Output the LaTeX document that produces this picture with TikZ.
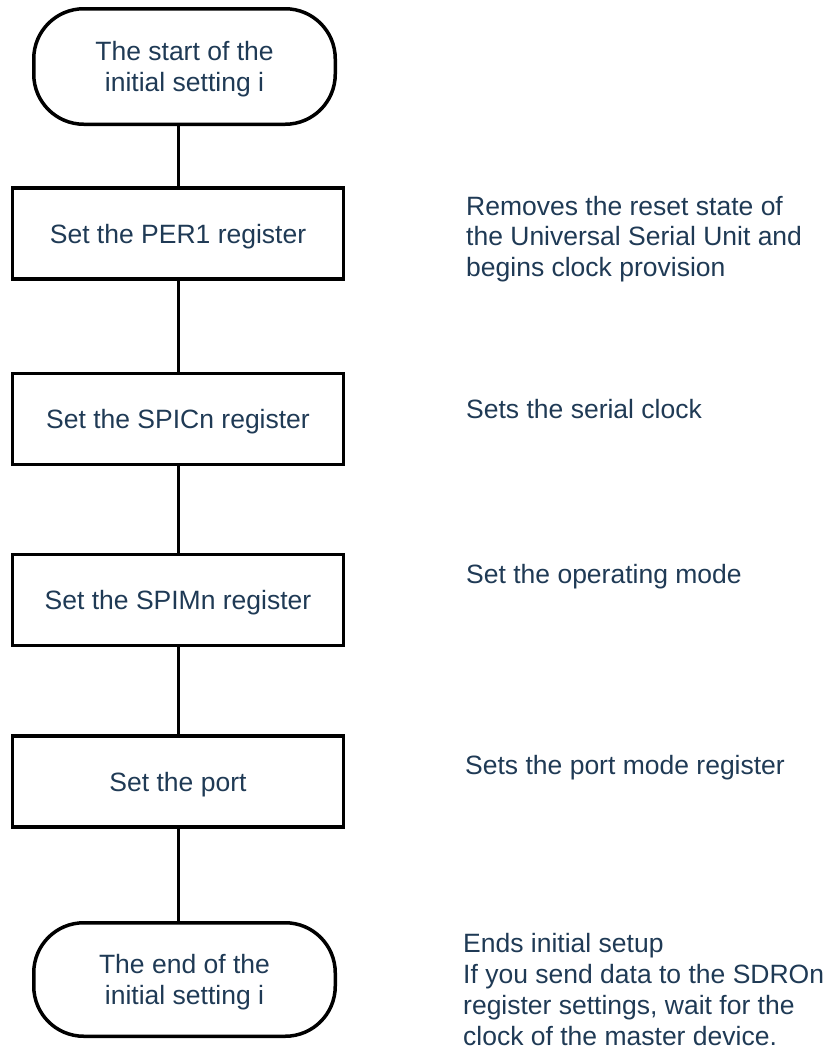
\documentclass[tikz,border=0pt]{standalone}
\usepackage{fontspec}
\setmainfont{Liberation Sans}
\usetikzlibrary{positioning}
\definecolor{notecolor}{HTML}{1F3A55}

\begin{document}
\begin{tikzpicture}[x=1pt, y=-1pt,
    every node/.style={font=\fontsize{26.5}{30.8}\selectfont, text=notecolor, inner sep=0pt},
    terminal/.style={draw=black, line width=3.5pt, rounded corners=50pt, minimum width=301.5pt, align=center},
    stepbox/.style={draw=black, line width=3.5pt, minimum width=331pt, minimum height=91pt, text height=19pt, text depth=0pt},
    note/.style={anchor=west, align=left},
    link/.style={line width=3pt}]
    \useasboundingbox (0,0) rectangle (827,1050);
    \node[terminal, minimum height=115.5pt] (start) at (184.5,66.5) {\rule{0pt}{24.6pt}The start of the\\initial setting i};
    \node[stepbox] (per) at (178,233.5) {Set the PER1 register};
    \node[stepbox] (spic) at (178,419) {Set the SPICn register};
    \node[stepbox] (spim) at (178,600) {Set the SPIMn register};
    \node[stepbox] (port) at (178,781.5) {Set the port};
    \node[terminal, minimum height=113.5pt] (finish) at (184.5,979.5) {\rule{0pt}{24.6pt}The end of the\\initial setting i};
    \draw[link] (start.south -| per.north) -- (per.north);
    \draw[link] (per.south) -- (spic.north);
    \draw[link] (spic.south) -- (spim.north);
    \draw[link] (spim.south) -- (port.north);
    \draw[link] (port.south) -- (port.south |- finish.north);
    \node[note] (noteper) at (466,239) {Removes the reset state of\\the Universal Serial Unit and\\begins clock provision};
    \node[note] (notespic) at (466,409.5) {Sets the serial clock};
    \node[note] (notespim) at (466,576.5) {Set the operating mode};
    \node[note] (noteport) at (465,767.5) {Sets the port mode register};
    \node[note] (notefinish) at (463,989.5) {Ends initial setup\\If you send data to the SDROn\\register settings, wait for the\\clock of the master device.};
\end{tikzpicture}
\end{document}
